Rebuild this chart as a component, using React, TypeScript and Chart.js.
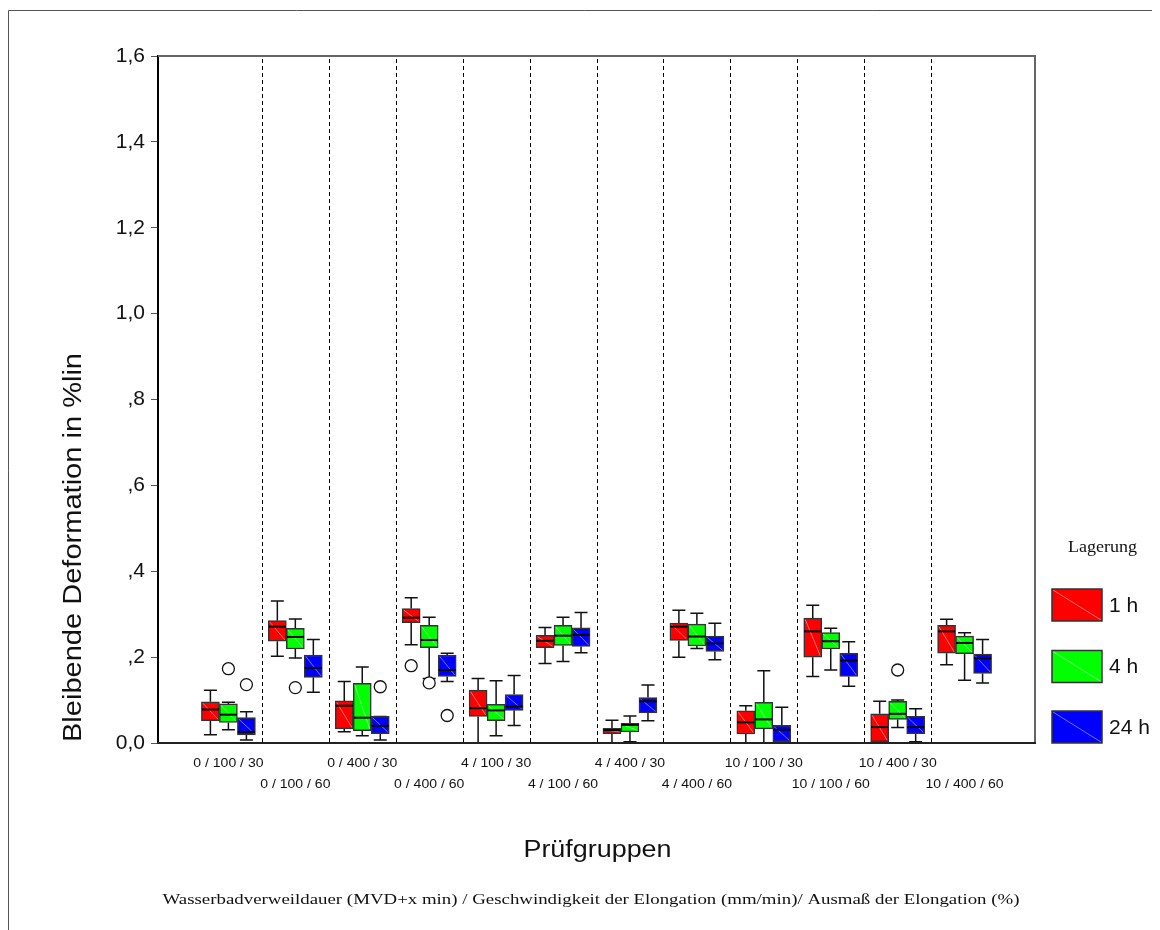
import React, { useEffect, useRef } from "react";
import { Chart, registerables } from "chart.js";

Chart.register(...registerables);

// ---------- data ----------
const categories = [
  "0 / 100 / 30", "0 / 100 / 60", "0 / 400 / 30", "0 / 400 / 60",
  "4 / 100 / 30", "4 / 100 / 60", "4 / 400 / 30", "4 / 400 / 60",
  "10 / 100 / 30", "10 / 100 / 60", "10 / 400 / 30", "10 / 400 / 60",
];

const seriesNames = ["1 h", "4 h", "24 h"];
const seriesColors = ["#ff0000", "#00ff00", "#0000ff"];

// 1 h
const min1h = [0.019, 0.202, 0.026, 0.229, 0.0, 0.185, 0.0, 0.2, 0.0, 0.155, 0.0, 0.182];
const q1_1h = [0.052, 0.237, 0.033, 0.28, 0.062, 0.222, 0.022, 0.239, 0.021, 0.2, 0.003, 0.209];
const med1h = [0.078, 0.271, 0.087, 0.292, 0.081, 0.238, 0.03, 0.271, 0.048, 0.26, 0.037, 0.26];
const q3_1h = [0.096, 0.285, 0.098, 0.313, 0.123, 0.251, 0.034, 0.279, 0.075, 0.291, 0.068, 0.274];
const max1h = [0.123, 0.331, 0.143, 0.338, 0.15, 0.269, 0.053, 0.309, 0.087, 0.321, 0.097, 0.288];
const out1h: [number, number][] = [[3, 0.18]];

// 4 h
const min4h = [0.031, 0.198, 0.017, 0.15, 0.017, 0.19, 0.003, 0.22, 0.0, 0.17, 0.036, 0.146];
const q1_4h = [0.048, 0.219, 0.029, 0.222, 0.052, 0.227, 0.026, 0.226, 0.033, 0.219, 0.055, 0.208];
const med4h = [0.066, 0.247, 0.059, 0.24, 0.076, 0.25, 0.042, 0.248, 0.055, 0.237, 0.068, 0.233];
const q3_4h = [0.091, 0.267, 0.139, 0.274, 0.09, 0.274, 0.046, 0.277, 0.095, 0.257, 0.097, 0.249];
const max4h = [0.095, 0.289, 0.177, 0.293, 0.145, 0.293, 0.063, 0.302, 0.168, 0.267, 0.1, 0.257];
const out4h: [number, number][] = [[0, 0.173], [1, 0.129], [3, 0.14], [10, 0.17]];

// 24 h
const min24h = [0.007, 0.118, 0.007, 0.143, 0.041, 0.21, 0.052, 0.194, 0.0, 0.132, 0.003, 0.14];
const q1_24h = [0.019, 0.153, 0.022, 0.155, 0.076, 0.225, 0.07, 0.213, 0.003, 0.155, 0.022, 0.162];
const med24h = [0.026, 0.175, 0.04, 0.17, 0.085, 0.252, 0.097, 0.232, 0.031, 0.192, 0.037, 0.197];
const q3_24h = [0.059, 0.205, 0.062, 0.205, 0.113, 0.268, 0.106, 0.249, 0.041, 0.209, 0.062, 0.207];
const max24h = [0.073, 0.241, 0.062, 0.209, 0.157, 0.304, 0.135, 0.279, 0.083, 0.236, 0.08, 0.241];
const out24h: [number, number][] = [[0, 0.136], [2, 0.131], [3, 0.064]];

const yTickValues = [0, 0.2, 0.4, 0.6, 0.8, 1.0, 1.2, 1.4, 1.6];
const yTickLabels = ["0,0", ",2", ",4", ",6", ",8", "1,0", "1,2", "1,4", "1,6"];

const yTitle = "Bleibende Deformation in %lin";
const xTitle = "Prüfgruppen";
const footnote =
  "Wasserbadverweildauer (MVD+x min) / Geschwindigkeit der Elongation (mm/min)/ Ausmaß der Elongation (%)";
const legendTitle = "Lagerung";

const series = [
  { name: seriesNames[0], color: seriesColors[0], min: min1h, q1: q1_1h, med: med1h, q3: q3_1h, max: max1h, out: out1h },
  { name: seriesNames[1], color: seriesColors[1], min: min4h, q1: q1_4h, med: med4h, q3: q3_4h, max: max4h, out: out4h },
  { name: seriesNames[2], color: seriesColors[2], min: min24h, q1: q1_24h, med: med24h, q3: q3_24h, max: max24h, out: out24h },
];

// ---------- styling ----------
const SANS = "'Liberation Sans', Arial, Helvetica, sans-serif";
const SERIF = "'Liberation Serif', 'Times New Roman', serif";
const W = 1152;
const H = 922;

function drawText(
  ctx: CanvasRenderingContext2D,
  text: string,
  x: number,
  y: number,
  font: string,
  opts: { align?: CanvasTextAlign; sx?: number; fit?: number; rotate?: number; baseline?: CanvasTextBaseline; color?: string } = {}
) {
  ctx.save();
  ctx.font = font;
  ctx.fillStyle = opts.color || "#000";
  ctx.textBaseline = opts.baseline || "middle";
  ctx.textAlign = opts.align || "center";
  const w = ctx.measureText(text).width;
  let sx = opts.sx ?? 1;
  if (opts.fit) sx = opts.fit / w;
  ctx.translate(x, y);
  if (opts.rotate) ctx.rotate(opts.rotate);
  ctx.scale(sx, 1);
  ctx.fillText(text, 0, 0);
  ctx.restore();
}

function drawBoxShape(ctx: CanvasRenderingContext2D, l: number, t: number, w: number, h: number, color: string) {
  ctx.save();
  ctx.fillStyle = color;
  ctx.fillRect(l, t, w, h);
  ctx.strokeStyle = "rgba(255,255,255,0.45)";
  ctx.lineWidth = 1;
  ctx.beginPath();
  ctx.moveTo(l + 1, t + 1);
  ctx.lineTo(l + w - 1, t + h - 1);
  ctx.stroke();
  ctx.strokeStyle = "#333";
  ctx.lineWidth = 1.5;
  ctx.strokeRect(l, t, w, h);
  ctx.restore();
}

const decorPlugin = {
  id: "boxDecor",
  beforeDatasetsDraw(chart: any) {
    const { ctx, chartArea: a, scales } = chart;
    const x = scales.x;
    const y = scales.y;
    ctx.save();
    ctx.strokeStyle = "#000";
    ctx.lineWidth = 1;
    ctx.setLineDash([4, 3]);
    for (let i = 0; i < categories.length - 1; i++) {
      const px = Math.round(x.getPixelForValue(i + 0.5)) + 0.5;
      ctx.beginPath();
      ctx.moveTo(px, a.top + 3);
      ctx.lineTo(px, a.bottom);
      ctx.stroke();
    }
    ctx.setLineDash([]);
    // whiskers
    ctx.strokeStyle = "#111";
    ctx.lineWidth = 1.5;
    series.forEach((s, d) => {
      const meta = chart.getDatasetMeta(d);
      meta.data.forEach((el: any, i: number) => {
        const cx = el.x;
        const pMax = y.getPixelForValue(s.max[i]);
        const pQ3 = y.getPixelForValue(s.q3[i]);
        const pQ1 = y.getPixelForValue(s.q1[i]);
        const pMin = y.getPixelForValue(s.min[i]);
        const cap = 6.5;
        ctx.beginPath();
        ctx.moveTo(cx, pMax);
        ctx.lineTo(cx, pQ3);
        ctx.moveTo(cx, pQ1);
        ctx.lineTo(cx, pMin);
        ctx.moveTo(cx - cap, pMax);
        ctx.lineTo(cx + cap, pMax);
        ctx.moveTo(cx - cap, pMin);
        ctx.lineTo(cx + cap, pMin);
        ctx.stroke();
      });
    });
    ctx.restore();
  },
  afterDatasetsDraw(chart: any) {
    const { ctx, scales } = chart;
    const y = scales.y;
    ctx.save();
    series.forEach((s, d) => {
      const meta = chart.getDatasetMeta(d);
      meta.data.forEach((el: any, i: number) => {
        const w = el.width;
        const l = el.x - w / 2;
        const top = y.getPixelForValue(s.q3[i]);
        const bot = y.getPixelForValue(s.q1[i]);
        // diagonal highlight
        ctx.strokeStyle = "rgba(255,255,255,0.45)";
        ctx.lineWidth = 1;
        ctx.beginPath();
        ctx.moveTo(l + 1.5, top + 1.5);
        ctx.lineTo(l + w - 1.5, bot - 1.5);
        ctx.stroke();
        // median
        const pm = y.getPixelForValue(s.med[i]);
        ctx.strokeStyle = "#000";
        ctx.lineWidth = 2;
        ctx.beginPath();
        ctx.moveTo(l + 0.5, pm);
        ctx.lineTo(l + w - 0.5, pm);
        ctx.stroke();
      });
      // outliers
      s.out.forEach(([g, v]) => {
        const el = meta.data[g];
        if (!el) return;
        const py = y.getPixelForValue(v);
        ctx.beginPath();
        ctx.arc(el.x, py, 6, 0, Math.PI * 2);
        ctx.fillStyle = "#fff";
        ctx.fill();
        ctx.strokeStyle = "#111";
        ctx.lineWidth = 1.3;
        ctx.stroke();
      });
    });
    ctx.restore();
  },
  afterDraw(chart: any) {
    const { ctx, chartArea: a, scales } = chart;
    const x = scales.x;
    ctx.save();
    // outer frame (top + left)
    ctx.strokeStyle = "#555";
    ctx.lineWidth = 1;
    ctx.beginPath();
    ctx.moveTo(0.5, H);
    ctx.lineTo(0.5, 2.5);
    ctx.lineTo(W, 2.5);
    ctx.stroke();
    // plot top & right border
    ctx.strokeStyle = "#666";
    ctx.lineWidth = 2;
    ctx.beginPath();
    ctx.moveTo(a.left, a.top);
    ctx.lineTo(a.right, a.top);
    ctx.lineTo(a.right, a.bottom);
    ctx.stroke();
    // bottom axis line
    ctx.strokeStyle = "#222";
    ctx.lineWidth = 2;
    ctx.beginPath();
    ctx.moveTo(a.left - 1, a.bottom);
    ctx.lineTo(a.right + 1, a.bottom);
    ctx.stroke();
    ctx.restore();

    // category labels (two alternating rows)
    categories.forEach((c, i) => {
      const px = x.getPixelForValue(i);
      const py = i % 2 === 0 ? a.bottom + 21 : a.bottom + 42;
      drawText(ctx, c, px, py, `12px ${SANS}`, { sx: 1.17, color: "#111" });
    });

    // axis titles
    drawText(ctx, xTitle, 589.5, 843, `23px ${SANS}`, { sx: 1.17, color: "#111" });
    drawText(ctx, yTitle, 66, 539.5, `26px ${SANS}`, { fit: 389, rotate: -Math.PI / 2, color: "#111" });
    drawText(ctx, footnote, 583, 892, `15px ${SERIF}`, { fit: 857, color: "#111" });

    // legend
    drawText(ctx, legendTitle, 1094.5, 540, `17px ${SERIF}`, { fit: 69, color: "#111" });
    const boxTops = [581, 642.5, 703];
    series.forEach((s, k) => {
      drawBoxShape(ctx, 1044, boxTops[k], 50, 32, s.color);
      drawText(ctx, s.name, 1101, boxTops[k] + 17, `21px ${SANS}`, { align: "left", color: "#111" });
    });
  },
};

export default function App() {
  const ref = useRef<HTMLCanvasElement | null>(null);

  useEffect(() => {
    document.body.style.overflow = "hidden";
    const canvas = ref.current;
    if (!canvas) return;
    const chart = new Chart(canvas, {
      type: "bar",
      data: {
        datasets: series.map((s) => ({
          label: s.name,
          data: categories.map((_, i) => ({ x: i, y: [s.q1[i], s.q3[i]] })),
          backgroundColor: s.color,
          borderColor: "#333",
          borderWidth: 1.5,
          borderSkipped: false,
          barThickness: 18,
        })),
      } as any,
      options: {
        responsive: false,
        animation: false,
        devicePixelRatio: 1,
        layout: { padding: { left: 0, top: 48, right: 125, bottom: 187 } },
        plugins: { legend: { display: false }, tooltip: { enabled: false }, title: { display: false } },
        scales: {
          x: {
            type: "linear",
            min: -1.052,
            max: 12.052,
            offset: false,
            grid: { offset: false },
            display: false,
          },
          y: {
            type: "linear",
            min: 0,
            max: 1.6,
            afterBuildTicks: (axis: any) => {
              axis.ticks = yTickValues.map((v) => ({ value: v }));
            },
            afterFit: (axis: any) => {
              axis.width = 150;
            },
            ticks: {
              color: "#111",
              padding: 6,
              font: { family: SANS, size: 21 },
              callback: (value: any) => {
                const idx = yTickValues.findIndex((v) => Math.abs(v - Number(value)) < 1e-6);
                return idx >= 0 ? yTickLabels[idx] : "";
              },
            },
            grid: { drawOnChartArea: false, drawTicks: true, tickLength: 7, color: "#555", lineWidth: 1 },
            border: { display: true, color: "#000", width: 2 },
          },
        },
      } as any,
      plugins: [decorPlugin],
    });
    return () => chart.destroy();
  }, []);

  return (
    <div style={{ width: W, height: H }}>
      <canvas ref={ref} width={W} height={H} style={{ display: "block" }} />
    </div>
  );
}
